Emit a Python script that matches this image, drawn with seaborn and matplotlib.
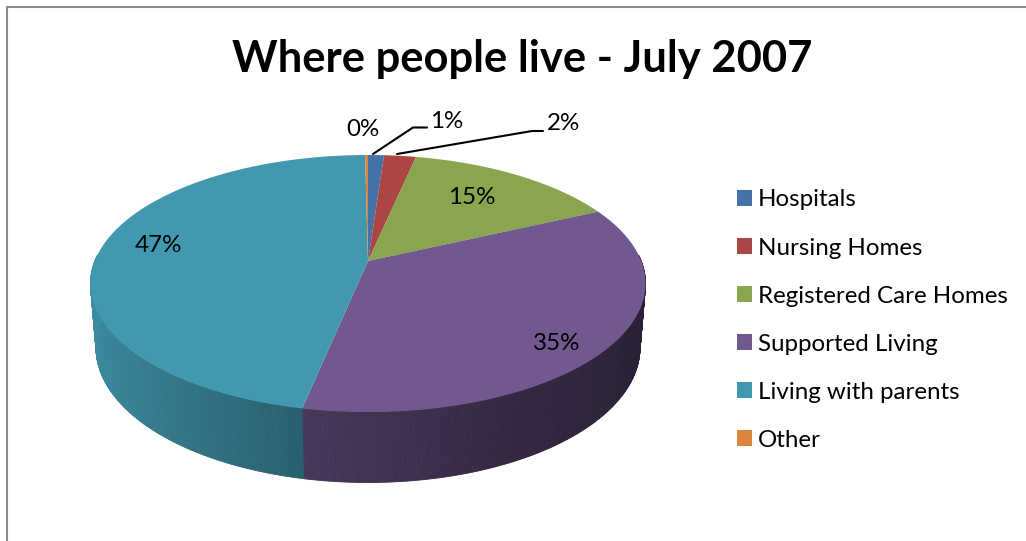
import numpy as np
import matplotlib
matplotlib.use("Agg")
import matplotlib.pyplot as plt
from matplotlib.collections import PolyCollection
from matplotlib.patches import Patch, Polygon
import seaborn as sns

# Share of people by place of residence, in percent
categories = ["Hospitals", "Nursing Homes", "Registered Care Homes",
              "Supported Living", "Living with parents", "Other"]
shares = [1.1, 2.2, 14.7, 35.2, 46.6, 0.2]
hex_colors = ["#4572A7", "#AA4643", "#89A54E", "#71588F", "#4198AF", "#DB843D"]
title_text = "Where people live - July 2007"

sns.set_theme(style="white")
palette = sns.color_palette(hex_colors)
plt.rcParams["font.family"] = ["Lato", "DejaVu Sans"]

# Figure-pixel coordinates make the projected disc easy to lay out
fig = plt.figure(figsize=(10.26, 5.41), dpi=100, facecolor="white")
ax = fig.add_axes([0, 0, 1, 1])
ax.set_xlim(0, 1026)
ax.set_ylim(541, 0)
ax.axis("off")

# Chart-area border: only the top and left edges fall inside the canvas
ax.plot([7, 7, 1026], [541, 6.5, 6.5], color="#8c8c8c", lw=1.5, solid_joinstyle="miter")

PERSPECTIVE = 0.175
CENTER_X = 368.0


def project(theta, half_width, half_height, center_y, radial=1.0):
    """Map clockwise-from-top angles on a tilted disc to screen positions."""
    scale_x = half_width * np.sqrt(1 - PERSPECTIVE ** 2)
    scale_y = half_height * (1 - PERSPECTIVE ** 2)
    apex_y = center_y - half_height * PERSPECTIVE
    u, v = radial * np.sin(theta), radial * np.cos(theta)
    denom = 1 + PERSPECTIVE * v
    return CENTER_X + scale_x * u / denom, apex_y - scale_y * v / denom


TOP = (277.5, 128.5, 283.5)
BASE = (272.0, 135.0, 347.5)

edges = np.deg2rad(np.cumsum([0] + shares) / sum(shares) * 360)

# Rim, drawn as narrow shaded strips on the near side, with light from the left
quads, quad_colors = [], []
for i, rgb in enumerate(palette):
    n = max(3, int(np.degrees(edges[i + 1] - edges[i]) * 2))
    steps = np.linspace(edges[i], edges[i + 1], n + 1)
    for a, b in zip(steps[:-1], steps[1:]):
        mid = (a + b) / 2
        if np.cos(mid) > 0.05:
            continue
        xt0, yt0 = project(a, *TOP)
        xt1, yt1 = project(b, *TOP)
        xb0, yb0 = project(a, *BASE)
        xb1, yb1 = project(b, *BASE)
        shade = np.interp(np.sin(mid), [-1, -0.24, 0.5, 1], [0.92, 0.64, 0.44, 0.37])
        quads.append([(xt0, yt0), (xt1, yt1), (xb1, yb1), (xb0, yb0)])
        quad_colors.append(tuple(c * shade for c in rgb))
ax.add_collection(PolyCollection(quads, facecolors=quad_colors, edgecolors=quad_colors,
                                 linewidths=0.6, zorder=2))

# Top face of each slice
for i, rgb in enumerate(palette):
    theta = np.linspace(edges[i], edges[i + 1], 120)
    x, y = project(theta, *TOP)
    apex = project(0.0, *TOP, radial=0.0)
    verts = np.column_stack([np.r_[apex[0], x], np.r_[apex[1], y]])
    ax.add_patch(Polygon(verts, closed=True, facecolor=rgb, edgecolor="none", zorder=3))

# Percentage labels, rounded from the plotted shares
label_xy = [(447, 121), (564, 124), (472, 197), (557, 343), (158, 245), (363, 129)]
for value, (lx, ly) in zip(shares, label_xy):
    ax.text(lx, ly, f"{value:.0f}%", ha="center", va="center",
            fontsize=17.4, color="black", zorder=5)

# Leader lines for the two thin slices
ax.plot([373, 413, 427], [154, 127.5, 127.5], color="black", lw=1.5, zorder=4)
ax.plot([397, 532, 543], [154, 131, 131], color="black", lw=1.5, zorder=4)

ax.text(522, 59, title_text, ha="center", va="center",
        fontsize=31.3, fontweight="bold", color="black")

handles = [Patch(facecolor=c, edgecolor="none") for c in palette]
ax.legend(handles, categories, loc="upper left", bbox_to_anchor=(737, 189.5),
          bbox_transform=ax.transData, frameon=False, fontsize=17.4,
          handlelength=0.62, handleheight=0.62, handletextpad=0.25,
          labelspacing=1.12, borderpad=0, borderaxespad=0, labelcolor="black")

fig.savefig("out.png", dpi=100, facecolor="white")
